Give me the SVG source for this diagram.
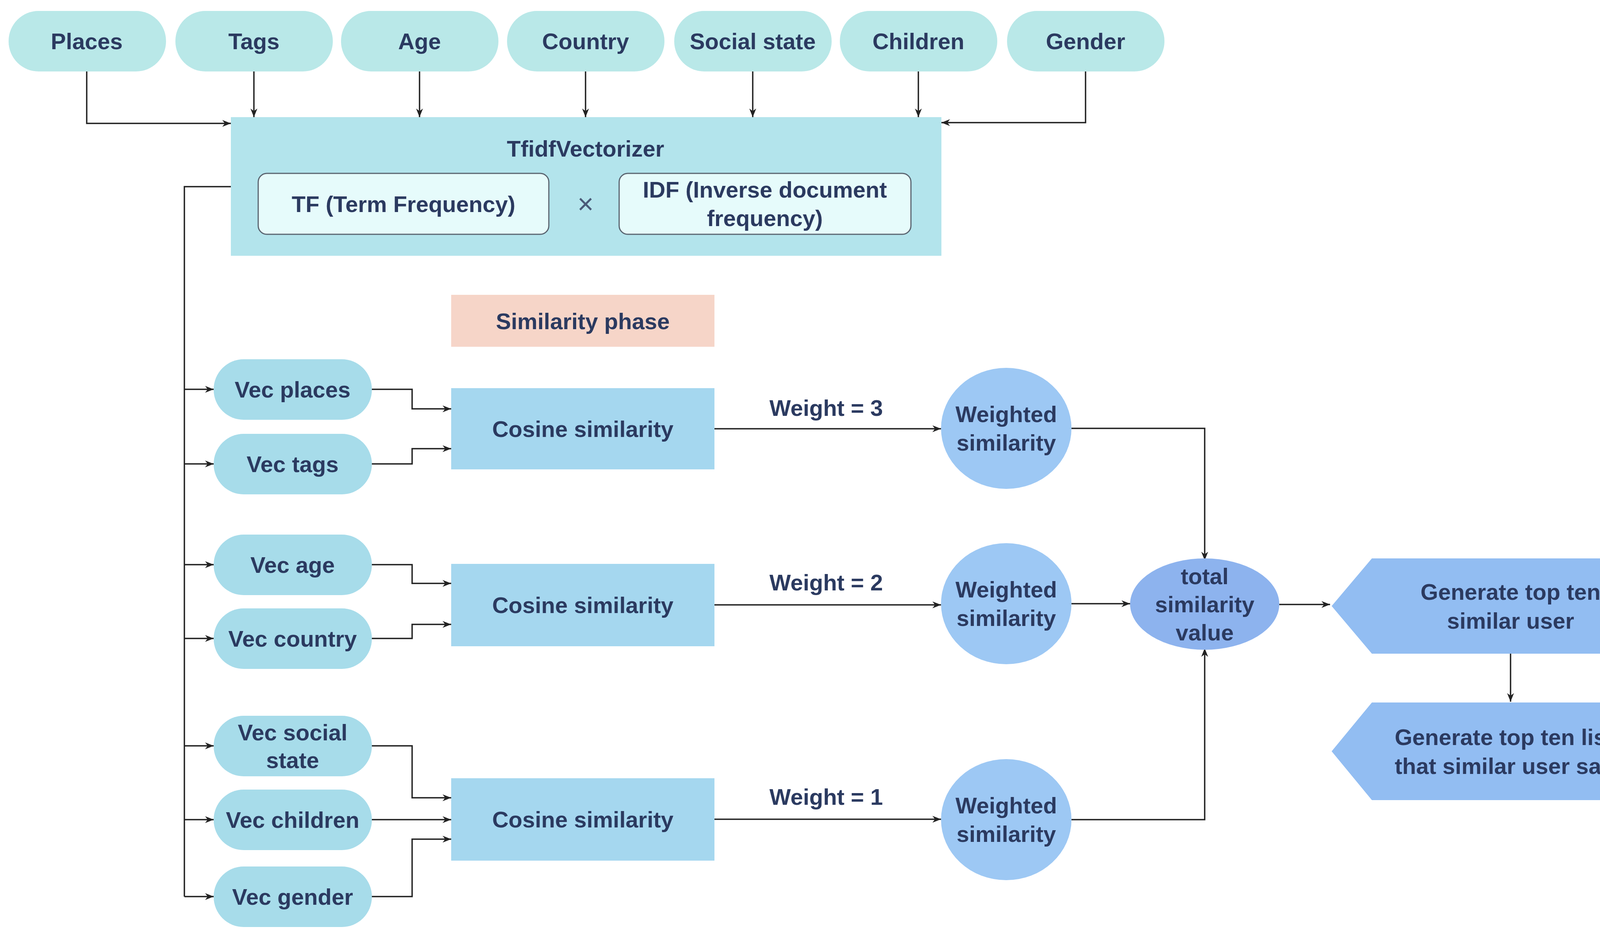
<svg xmlns="http://www.w3.org/2000/svg" width="4353" height="2397" viewBox="0 0 4353 2397">
<defs>
<marker id="ah" viewBox="0 0 10 10" refX="9" refY="5" markerWidth="7" markerHeight="7" markerUnits="userSpaceOnUse" orient="auto"><path d="M0,0 L10,5 L0,10 Z" fill="#222"/></marker>
<marker id="a" viewBox="0 0 10 10" refX="10" refY="5" markerWidth="22" markerHeight="22" markerUnits="userSpaceOnUse" orient="auto"><path d="M0,1 L10,5 L0,9 L3,5 Z" fill="#222"/></marker>
</defs>
<style>
text{font-family:"Liberation Sans",Arial,sans-serif;font-weight:bold;fill:#2b3a60;text-anchor:middle;dominant-baseline:central}
.t{font-size:58px}
.top{fill:#b9e8e8}
.vec{fill:#a7dcea}
.cos{fill:#a5d7ef}
.w{fill:#9dc8f4}
.c{fill:none;stroke:#222;stroke-width:3.5;marker-end:url(#a)}
.c0{fill:none;stroke:#222;stroke-width:3.5}
</style>
<rect width="4353" height="2397" fill="#fff"/>
<g id="connectors">
<path class="c" d="M222,183 V316 H591"/>
<path class="c" d="M650,183 V300"/>
<path class="c" d="M1074,183 V300"/>
<path class="c" d="M1499,183 V300"/>
<path class="c" d="M1927,183 V300"/>
<path class="c" d="M2351,183 V300"/>
<path class="c" d="M2779,183 V314 H2410"/>
<path class="c0" d="M591,478 H472 V2296"/>
<path class="c" d="M472,997 H547"/>
<path class="c" d="M472,1188 H547"/>
<path class="c" d="M472,1446 H547"/>
<path class="c" d="M472,1635 H547"/>
<path class="c" d="M472,1910 H547"/>
<path class="c" d="M472,2099 H547"/>
<path class="c" d="M472,2296 H547"/>
<path class="c" d="M952,997 H1055 V1047 H1155"/>
<path class="c" d="M952,1188 H1055 V1149 H1155"/>
<path class="c" d="M952,1446 H1055 V1494 H1155"/>
<path class="c" d="M952,1635 H1055 V1599 H1155"/>
<path class="c" d="M952,1910 H1055 V2043 H1155"/>
<path class="c" d="M952,2099 H1155"/>
<path class="c" d="M952,2296 H1055 V2149 H1155"/>
<path class="c" d="M1829,1098 H2409"/>
<path class="c" d="M1829,1549 H2409"/>
<path class="c" d="M1829,2098 H2409"/>
<path class="c" d="M2743,1097 H3084 V1435"/>
<path class="c" d="M2743,1546 H2893"/>
<path class="c" d="M2743,2099 H3084 V1660"/>
<path class="c" d="M3275,1548 H3405"/>
<path class="c" d="M3867,1674 V1797"/>
</g>
<g id="n-places"><rect class="top" x="22" y="28" width="403" height="155" rx="77"/><text class="t" x="222" y="105">Places</text></g>
<g id="n-tags"><rect class="top" x="449" y="28" width="403" height="155" rx="77"/><text class="t" x="650" y="105">Tags</text></g>
<g id="n-age"><rect class="top" x="873" y="28" width="403" height="155" rx="77"/><text class="t" x="1074" y="105">Age</text></g>
<g id="n-country"><rect class="top" x="1298" y="28" width="403" height="155" rx="77"/><text class="t" x="1499" y="105">Country</text></g>
<g id="n-social"><rect class="top" x="1726" y="28" width="403" height="155" rx="77"/><text class="t" x="1927" y="105">Social state</text></g>
<g id="n-children"><rect class="top" x="2150" y="28" width="403" height="155" rx="77"/><text class="t" x="2351" y="105">Children</text></g>
<g id="n-gender"><rect class="top" x="2578" y="28" width="403" height="155" rx="77"/><text class="t" x="2779" y="105">Gender</text></g>
<g id="n-tfidf">
<rect x="591" y="300" width="1819" height="355" fill="#b3e4ec"/>
<text class="t" x="1499" y="380">TfidfVectorizer</text>
<rect x="661" y="444" width="744" height="156" rx="22" fill="#e6fbfb" stroke="#5a6470" stroke-width="3"/>
<text class="t" x="1033" y="522">TF (Term Frequency)</text>
<text x="1499" y="522" style="font-size:72px;font-weight:normal;fill:#4a5a78">×</text>
<rect x="1585" y="444" width="747" height="156" rx="22" fill="#e6fbfb" stroke="#5a6470" stroke-width="3"/>
<text class="t" x="1958" y="485">IDF (Inverse document</text>
<text class="t" x="1958" y="558">frequency)</text>
</g>
<g id="n-phase"><rect x="1155" y="755" width="674" height="133" fill="#f6d5c8"/><text class="t" x="1492" y="822">Similarity phase</text></g>
<g id="n-vplaces"><rect class="vec" x="547" y="920" width="405" height="155" rx="77"/><text class="t" x="749" y="997">Vec places</text></g>
<g id="n-vtags"><rect class="vec" x="547" y="1111" width="405" height="155" rx="77"/><text class="t" x="749" y="1188">Vec tags</text></g>
<g id="n-vage"><rect class="vec" x="547" y="1369" width="405" height="155" rx="77"/><text class="t" x="749" y="1446">Vec age</text></g>
<g id="n-vcountry"><rect class="vec" x="547" y="1558" width="405" height="155" rx="77"/><text class="t" x="749" y="1635">Vec country</text></g>
<g id="n-vsocial"><rect class="vec" x="547" y="1833" width="405" height="155" rx="77"/><text class="t" x="749" y="1875">Vec social</text><text class="t" x="749" y="1946">state</text></g>
<g id="n-vchildren"><rect class="vec" x="547" y="2022" width="405" height="155" rx="77"/><text class="t" x="749" y="2099">Vec children</text></g>
<g id="n-vgender"><rect class="vec" x="547" y="2219" width="405" height="155" rx="77"/><text class="t" x="749" y="2296">Vec gender</text></g>
<g id="n-cos1"><rect class="cos" x="1155" y="994" width="674" height="208"/><text class="t" x="1492" y="1098">Cosine similarity</text></g>
<g id="n-cos2"><rect class="cos" x="1155" y="1444" width="674" height="211"/><text class="t" x="1492" y="1549">Cosine similarity</text></g>
<g id="n-cos3"><rect class="cos" x="1155" y="1993" width="674" height="211"/><text class="t" x="1492" y="2098">Cosine similarity</text></g>
<g id="labels"><text class="t" x="2115" y="1044">Weight = 3</text><text class="t" x="2115" y="1491">Weight = 2</text><text class="t" x="2115" y="2040">Weight = 1</text></g>
<g id="n-w1"><ellipse class="w" cx="2576" cy="1097" rx="167" ry="155"/><text class="t" x="2576" y="1060">Weighted</text><text class="t" x="2576" y="1133">similarity</text></g>
<g id="n-w2"><ellipse class="w" cx="2576" cy="1546" rx="167" ry="155"/><text class="t" x="2576" y="1509">Weighted</text><text class="t" x="2576" y="1582">similarity</text></g>
<g id="n-w3"><ellipse class="w" cx="2576" cy="2099" rx="167" ry="155"/><text class="t" x="2576" y="2062">Weighted</text><text class="t" x="2576" y="2135">similarity</text></g>
<g id="n-total"><ellipse cx="3084" cy="1547" rx="191" ry="117" fill="#8db3ee"/><text class="t" x="3084" y="1475">total</text><text class="t" x="3084" y="1547">similarity</text><text class="t" x="3084" y="1619">value</text></g>
<g id="n-gen1"><polygon points="3409,1552 3512,1430 4225,1430 4325,1552 4225,1674 3512,1674" fill="#92bdf2"/><text class="t" x="3867" y="1515">Generate top ten</text><text class="t" x="3867" y="1589">similar user</text></g>
<g id="n-gen2"><polygon points="3409,1924 3512,1799 4225,1799 4325,1924 4225,2049 3512,2049" fill="#92bdf2"/><text class="t" x="3867" y="1887">Generate top ten lists</text><text class="t" x="3867" y="1961">that similar user save</text></g>
</svg>
